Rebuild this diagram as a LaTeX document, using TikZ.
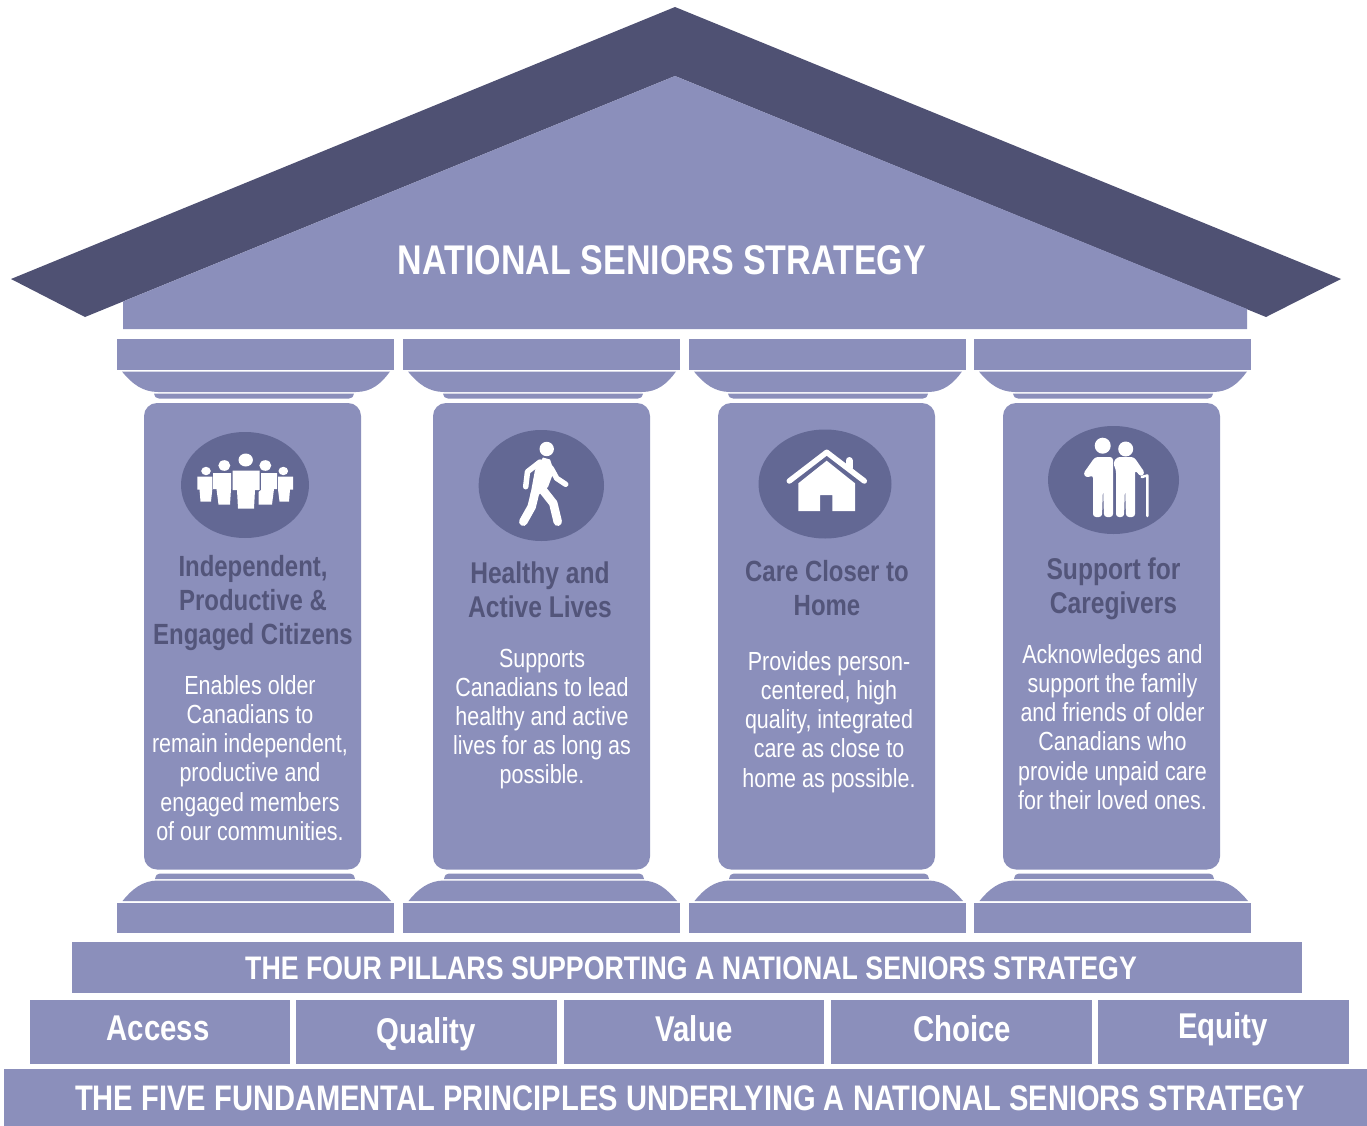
\documentclass[tikz,border=0pt]{standalone}
\usepackage{fontspec}
\setmainfont[FakeStretch=0.82]{Liberation Sans}
\definecolor{lite}{HTML}{8B8FBB}
\definecolor{roofc}{HTML}{4F5173}
\definecolor{disc}{HTML}{636894}
\definecolor{headc}{HTML}{53557A}
\tikzset{
  litefill/.style={fill=lite,draw=none},
  iconfill/.style={fill=white,draw=none},
  iconline/.style={draw=white,line cap=round,line join=round,fill=none},
  headtxt/.style={text=headc,font=\bfseries\fontsize{30}{34}\selectfont,align=center,inner sep=0pt},
  headtxtb/.style={text=headc,font=\bfseries\fontsize{29.2}{34}\selectfont,align=center,inner sep=0pt},
  bodytxt/.style={text=white,font=\fontsize{26.2}{29.2}\selectfont,align=center,inner sep=0pt},
  lbl/.style={text=white,inner sep=0pt},
  wordlbl/.style={lbl,font=\bfseries\fontsize{35.8}{36}\selectfont}
}
\begin{document}
\begin{tikzpicture}[x=1pt,y=-1pt]
\useasboundingbox (0,0) rectangle (1367,1126);
% roof
\fill[roofc] (675,7) -- (1341,279) -- (1266,317) -- (675,76) -- (85,317) -- (11,279) -- cycle;
\fill[lite] (675,76) -- (1247,309) -- (1247,329) -- (123,329) -- (123,301.5) -- cycle;
\node[lbl,font=\bfseries\fontsize{41.5}{42}\selectfont] (title) at (662,260) {NATIONAL SENIORS STRATEGY};
% pillars
\foreach \c/\s in {0/0,286/289,572/574,857/859}{
  \begin{scope}[shift={(\c,0)}]
    \fill[litefill] (117,339) rectangle (394,370);
    \fill[litefill] (122,371.5) .. controls (132,384) and (143,392) .. (158,392) -- (356,392) .. controls (371,392) and (381,384) .. (390,371.5) -- cycle;
    \fill[litefill] (122.5,901) .. controls (132,889) and (143,880.5) .. (158,880.5) -- (356,880.5) .. controls (371,880.5) and (381,889) .. (391,901) -- cycle;
    \fill[litefill] (117,902.5) rectangle (394,933);
  \end{scope}
  \begin{scope}[shift={(\s,0)}]
    \fill[litefill] (154,393.5) -- (354,393.5) .. controls (353,397) and (352,398.5) .. (349,398.5) -- (159,398.5) .. controls (156,398.5) and (155,397) .. (154,393.5) -- cycle;
    \fill[litefill] (155,879) .. controls (156,875) and (157,873.5) .. (160,873.5) -- (350,873.5) .. controls (353,873.5) and (354,875) .. (355,879) -- cycle;
    \fill[litefill,rounded corners=13pt] (144,403) rectangle (361,869.5);
  \end{scope}
}
% discs
\fill[disc] (245,485) ellipse [x radius=64,y radius=53];
\fill[disc] (541.3,485.5) ellipse [x radius=62.7,y radius=55.5];
\fill[disc] (825,484) ellipse [x radius=66.5,y radius=54.5];
\fill[disc] (1113.5,480) ellipse [x radius=65.5,y radius=54];
% icon 1: group
\fill[iconfill] (245.7,460) ellipse [x radius=7.2,y radius=6.5];
\fill[iconfill] (224.3,465.5) ellipse [x radius=6,y radius=5.3];
\fill[iconfill] (265.3,465.5) ellipse [x radius=6,y radius=5.3];
\fill[iconfill] (206,471) ellipse [x radius=4.8,y radius=4.2];
\fill[iconfill] (283.3,471) ellipse [x radius=4.8,y radius=4.2];
\fill[iconfill] (197.3,476.5) -- (212.3,476.5) -- (212.3,489.5) -- (211,501.5) -- (200.5,501.5) -- (199.5,489.5) -- (197.3,489.5) -- cycle;
\fill[iconfill] (213,473) -- (231,473) -- (231,489) -- (230,504.5) -- (218.5,504.5) -- (216.5,489) -- (213,489) -- cycle;
\fill[iconfill] (232.5,470.7) -- (259.5,470.7) -- (259.5,490) -- (255,490) -- (254,508.5) -- (238,508.5) -- (237,490) -- (232.5,490) -- cycle;
\fill[iconfill] (261,473) -- (277,473) -- (277,489) -- (274,489) -- (272,504.5) -- (258.5,504.5) -- (258.5,492) -- (261,490) -- cycle;
\fill[iconfill] (278,476.5) -- (293,476.5) -- (293,489.5) -- (290,489.5) -- (289,501.5) -- (279.5,501.5) -- (278,489.5) -- cycle;
% icon 2: walker
\fill[iconfill] (546.7,449) circle (7.2);
\fill[iconfill] (543,457.5) -- (550,459.5) -- (554,471) -- (548,487) -- (536,497) -- (530,497) -- (535,470) -- cycle;
\draw[iconline,line width=5.5pt] (540,462) -- (527.5,471.7) -- (525.7,486.7);
\draw[iconline,line width=5.5pt] (551,468) -- (556.7,478.3) -- (565.7,484.3);
\draw[iconline,line width=8.5pt] (535,493) -- (531.7,506.7) -- (523.3,521.7);
\draw[iconline,line width=8.5pt] (542,489) -- (553.3,503.3) -- (557.7,521.7);
% icon 3: house
\draw[iconline,line width=5.5pt] (789.3,481) -- (826.7,452.3) -- (864.3,481);
\draw[iconline,line width=7pt] (849,460.5) -- (849,468);
\fill[iconfill] (826.7,460.7) -- (855,483.3) -- (855,511) -- (832.3,511) -- (832.3,495) -- (820,495) -- (820,511) -- (798.3,511) -- (798.3,483.3) -- cycle;
% icon 4: elders
\fill[iconfill] (1102.7,445.7) circle (8);
\fill[iconfill] (1125.7,449) circle (7.5);
\fill[iconfill,rounded corners=3pt] (1095,457) -- (1113,457) -- (1113,517) -- (1104,517) -- (1103,486) -- (1102,517) -- (1093,517) -- (1093,475) -- (1087,478) -- (1083,474) -- cycle;
\fill[iconfill,rounded corners=3pt] (1117,457) -- (1134,457) -- (1145,473) -- (1141,477) -- (1135,470) -- (1135,517) -- (1126,517) -- (1125,486) -- (1124,517) -- (1116,517) -- (1116,470) -- (1113,463) -- cycle;
\draw[iconline,line width=2.5pt] (1141.7,477) -- (1147.3,475.5) -- (1147.3,516);
% pillar text
\node[headtxtb] (h1) at (253,603) {Independent,\\Productive \&\\Engaged Citizens};
\node[bodytxt] (b1) at (250,758) {Enables older\\Canadians to\\remain independent,\\productive and\\engaged members\\of our communities.};
\node[headtxt] (h2) at (540,590) {Healthy and\\Active Lives};
\node[bodytxt] (b2) at (542,719) {Supports\\Canadians to lead\\healthy and active\\lives for as long as\\possible.};
\node[headtxtb] (h3) at (827,588) {Care Closer to\\Home};
\node[bodytxt] (b3) at (829,722) {Provides person-\\centered, high\\quality, integrated\\care as close to\\home as possible.};
\node[headtxt] (h4) at (1113.5,589) {Support for\\Caregivers};
\node[bodytxt] (b4) at (1112.5,727) {Acknowledges and\\support the family\\and friends of older\\Canadians who\\provide unpaid care\\for their loved ones.};
% bands
\fill[litefill] (72,942) rectangle (1302,993);
\node[lbl,font=\bfseries\fontsize{32.6}{33}\selectfont] (four) at (691,968) {THE FOUR PILLARS SUPPORTING A NATIONAL SENIORS STRATEGY};
\fill[litefill] (30,1000) rectangle (290,1064);
\fill[litefill] (296,1000) rectangle (557,1064);
\fill[litefill] (564,1000) rectangle (824,1064);
\fill[litefill] (831,1000) rectangle (1092,1064);
\fill[litefill] (1098,1000) rectangle (1349,1064);
\node[wordlbl] (p1) at (158,1028.5) {Access};
\node[wordlbl] (p2) at (426,1034.5) {Quality};
\node[wordlbl] (p3) at (694,1028.5) {Value};
\node[wordlbl] (p4) at (962,1028.5) {Choice};
\node[wordlbl] (p5) at (1223,1029) {Equity};
\fill[litefill] (4,1069) rectangle (1367,1126);
\node[lbl,font=\bfseries\fontsize{35.5}{36}\selectfont] (five) at (690,1098) {THE FIVE FUNDAMENTAL PRINCIPLES UNDERLYING A NATIONAL SENIORS STRATEGY};
\end{tikzpicture}
\end{document}
